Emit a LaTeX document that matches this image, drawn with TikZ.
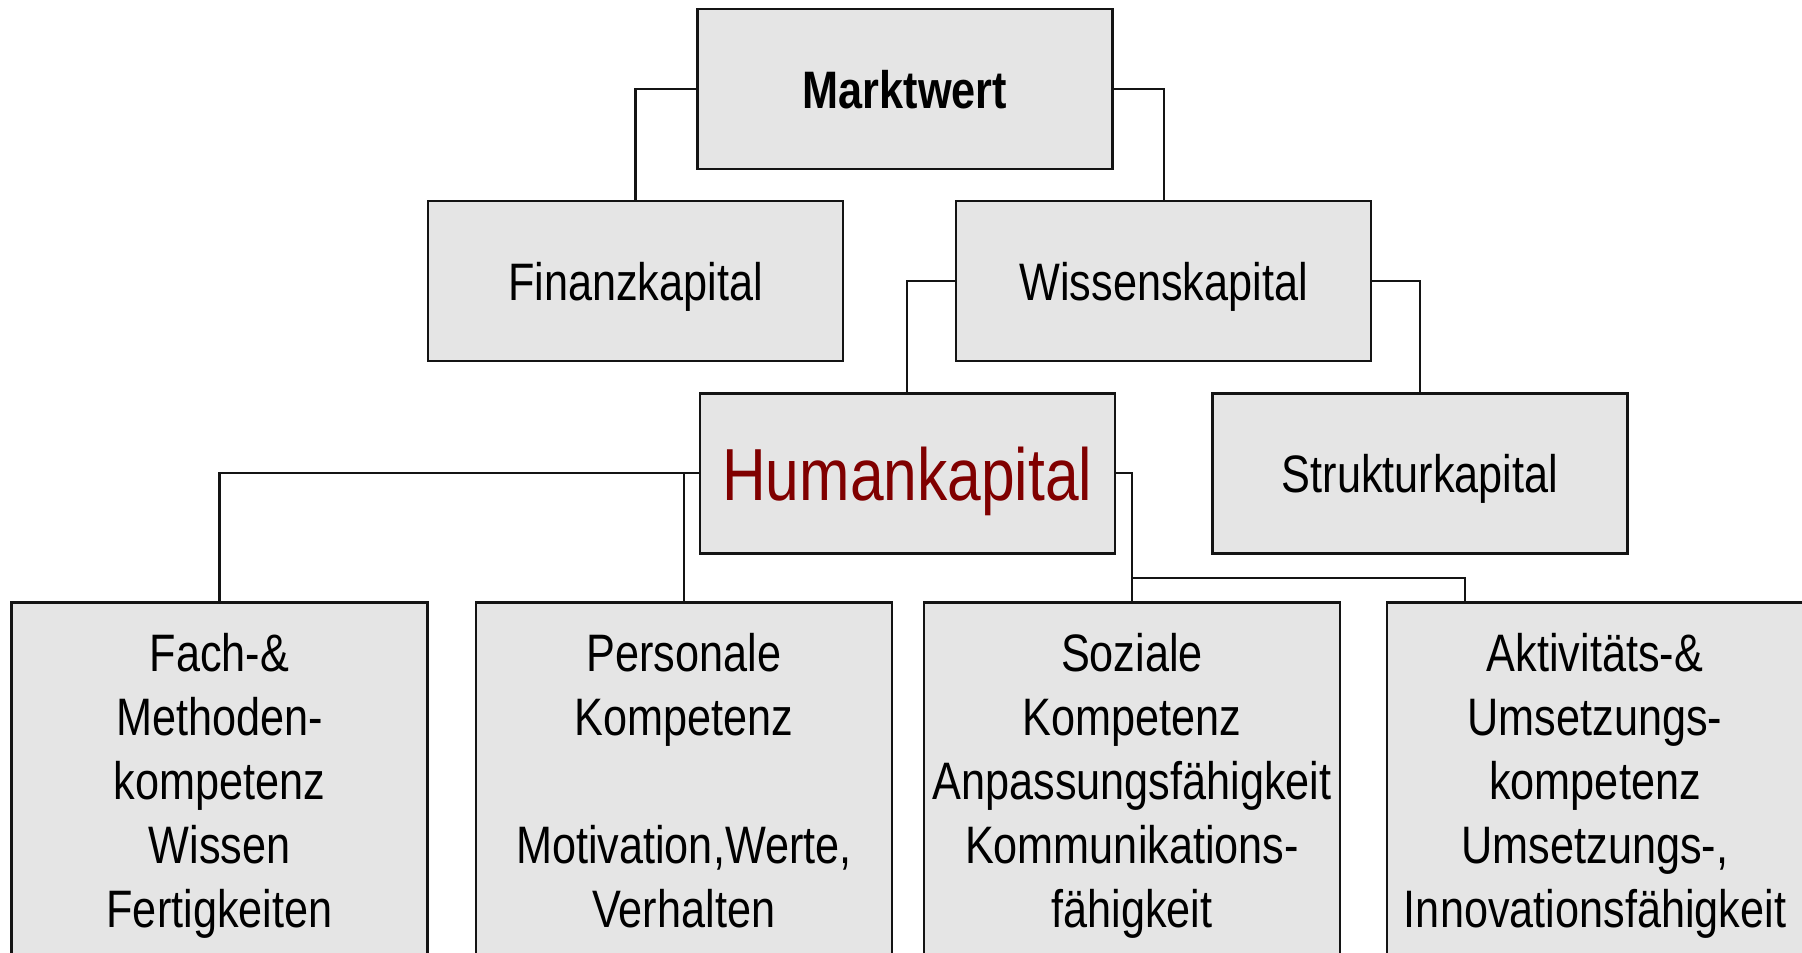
\documentclass[tikz,border=0pt]{standalone}
\usepackage{fontspec}
\setmainfont[FakeStretch=0.82]{Liberation Sans}
\usepackage{tikz}
\usetikzlibrary{positioning, calc}
\definecolor{boxgray}{RGB}{229,229,229}
\definecolor{humred}{RGB}{128,0,0}
\definecolor{mydark}{RGB}{20,20,20}
\tikzset{
  kbox/.style={rectangle, draw=mydark, fill=boxgray,
    minimum width=4.15cm, minimum height=1.6cm, inner sep=0pt, text depth=0pt,
    font=\fontsize{15}{18}\selectfont, line width=0.7pt},
  lowbox/.style={rectangle, draw=mydark, fill=boxgray,
    text width=4.16cm, align=center, minimum height=3.68cm, inner sep=0pt,
    font=\fontsize{15}{18.2}\selectfont, line width=0.7pt},
  line/.style={line width=0.6pt, color=mydark}
}
\begin{document}
\begin{tikzpicture}[node distance=0.297cm]
  \clip (0,0) rectangle (18.02,-9.52);
  \node[kbox, font=\fontsize{15}{18}\selectfont\bfseries] (markt) at (9.05,-0.89) {Marktwert};
  \node[kbox, below=of markt, xshift=-2.695cm] (finanz) {Finanzkapital};
  \node[kbox, below=of markt, xshift=2.586cm] (wissen) {Wissenskapital};
  \node[kbox, below=of wissen, xshift=-2.563cm, text=humred,
    font=\fontsize{21}{25}\selectfont] (human) {Humankapital};
  \node[kbox, below=of wissen, xshift=2.563cm] (struktur) {Strukturkapital};
  \node[lowbox, below=0.468cm of human, xshift=-6.878cm] (fach)
    {\strut Fach-\&\\Methoden-\\kompetenz\\Wissen\\Fertigkeiten\strut};
  \node[lowbox, below=0.468cm of human, xshift=-2.235cm] (pers)
    {\strut Personale\\Kompetenz\\~\\Motivation,Werte,\\Verhalten\strut};
  \node[lowbox, below=0.468cm of human, xshift=2.247cm] (soz)
    {\strut Soziale\\Kompetenz\\Anpassungsfähigkeit\\Kommunikations-\\fähigkeit\strut};
  \node[lowbox, below=0.468cm of human, xshift=6.877cm] (akt)
    {\strut Aktivitäts-\&\\Umsetzungs-\\kompetenz\\Umsetzungs-,\\Innovationsfähigkeit\strut};
  \coordinate (aktin) at ($(akt.north west)+(0.795,0)$);
  \draw[line] (markt.west) -| (finanz.north);
  \draw[line] (markt.east) -| (wissen.north);
  \draw[line] (wissen.west) -| (human.north);
  \draw[line] (wissen.east) -| (struktur.north);
  \draw[line] (human.west) -| (fach.north);
  \draw[line] (human.west -| pers.north) -- (pers.north);
  \draw[line] (human.east) -| (soz.north);
  \draw[line] ($(soz.north)+(0,0.23)$) -| (aktin);
\end{tikzpicture}
\end{document}
